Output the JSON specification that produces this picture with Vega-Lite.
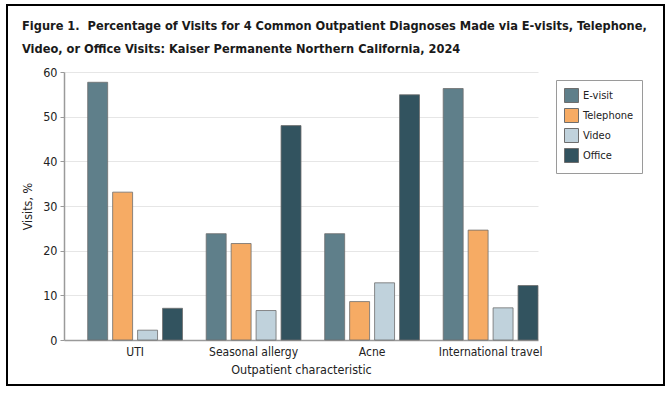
{
  "$schema": "https://vega.github.io/schema/vega-lite/v6.json",
  "width": 474,
  "height": 268,
  "autosize": "none",
  "padding": {"left": 64, "top": 72, "right": 133, "bottom": 57},
  "background": "white",
  "title": {
    "text": ["Figure 1.\u00a0 Percentage of Visits for 4 Common Outpatient Diagnoses Made via E-visits, Telephone,", "Video, or Office Visits: Kaiser Permanente Northern California, 2024"],
    "anchor": "start",
    "frame": "group",
    "dx": -42,
    "dy": 64,
    "offset": 12,
    "font": "DejaVu Sans Condensed, Roboto Condensed, Liberation Sans Narrow, Roboto, sans-serif",
    "fontSize": 12.7,
    "fontWeight": "bold",
    "color": "#1a1a1a",
    "lineHeight": 23
  },
  "config": {
    "view": {"stroke": null},
    "font": "DejaVu Sans Condensed, Roboto Condensed, Liberation Sans Narrow, Roboto, sans-serif"
  },
  "layer": [
    {
      "data": {
        "values": [
          {"diagnosis": "UTI", "mode": "E-visit", "value": 57.7},
          {"diagnosis": "UTI", "mode": "Telephone", "value": 33.1},
          {"diagnosis": "UTI", "mode": "Video", "value": 2.2},
          {"diagnosis": "UTI", "mode": "Office", "value": 7.1},
          {"diagnosis": "Seasonal allergy", "mode": "E-visit", "value": 23.8},
          {"diagnosis": "Seasonal allergy", "mode": "Telephone", "value": 21.6},
          {"diagnosis": "Seasonal allergy", "mode": "Video", "value": 6.6},
          {"diagnosis": "Seasonal allergy", "mode": "Office", "value": 48.0},
          {"diagnosis": "Acne", "mode": "E-visit", "value": 23.8},
          {"diagnosis": "Acne", "mode": "Telephone", "value": 8.6},
          {"diagnosis": "Acne", "mode": "Video", "value": 12.8},
          {"diagnosis": "Acne", "mode": "Office", "value": 54.9},
          {"diagnosis": "International travel", "mode": "E-visit", "value": 56.3},
          {"diagnosis": "International travel", "mode": "Telephone", "value": 24.6},
          {"diagnosis": "International travel", "mode": "Video", "value": 7.2},
          {"diagnosis": "International travel", "mode": "Office", "value": 12.2}
        ]
      },
      "mark": {"type": "bar", "stroke": "#6e6e6e", "strokeWidth": 1, "strokeOpacity": 0.8},
      "encoding": {
        "x": {
          "field": "diagnosis",
          "type": "nominal",
          "sort": ["UTI", "Seasonal allergy", "Acne", "International travel"],
          "scale": {"paddingInner": 0.2, "paddingOuter": 0.1, "align": 1},
          "axis": {
            "title": "Outpatient characteristic",
            "labelAngle": 0,
            "ticks": false,
            "domainColor": "#9a9a9a",
            "domainWidth": 1.5,
            "labelFontSize": 12,
            "labelColor": "#222222",
            "labelPadding": 6,
            "titleFontSize": 12.5,
            "titleFontWeight": "normal",
            "titleColor": "#222222",
            "titlePadding": 6
          }
        },
        "xOffset": {
          "field": "mode",
          "type": "nominal",
          "sort": ["E-visit", "Telephone", "Video", "Office"],
          "scale": {"paddingInner": 0.2, "paddingOuter": 0}
        },
        "y": {
          "field": "value",
          "type": "quantitative",
          "scale": {"domain": [0, 60]},
          "axis": {
            "title": "Visits, %",
            "values": [0, 10, 20, 30, 40, 50, 60],
            "gridColor": "#e6e6e6",
            "gridWidth": 1,
            "domainColor": "#9a9a9a",
            "domainWidth": 1.5,
            "tickColor": "#9a9a9a",
            "tickSize": 4,
            "labelFontSize": 12.5,
            "labelColor": "#222222",
            "labelPadding": 3,
            "titleFontSize": 12.5,
            "titleFontWeight": "normal",
            "titleColor": "#222222",
            "titlePadding": 8
          }
        },
        "color": {
          "field": "mode",
          "type": "nominal",
          "sort": ["E-visit", "Telephone", "Video", "Office"],
          "scale": {
            "domain": ["E-visit", "Telephone", "Video", "Office"],
            "range": ["#5f7f8a", "#f6ab64", "#c0d2dc", "#32535f"]
          },
          "legend": {
            "title": null,
            "orient": "none",
            "legendX": 492,
            "legendY": 8,
            "symbolType": "square",
            "symbolSize": 196,
            "symbolStrokeColor": "#6e6e6e",
            "symbolStrokeWidth": 1,
            "symbolOpacity": 1,
            "rowPadding": 1,
            "labelFontSize": 11,
            "labelColor": "#222222",
            "labelOffset": 4,
            "strokeColor": "#9a9a9a",
            "padding": 8
          }
        }
      }
    },
    {
      "data": {"values": [{}]},
      "mark": {"type": "rect", "fill": null, "stroke": "#000000", "strokeWidth": 2},
      "encoding": {
        "x": {"value": -57},
        "x2": {"value": 600},
        "y": {"value": -67},
        "y2": {"value": 313}
      }
    }
  ]
}
